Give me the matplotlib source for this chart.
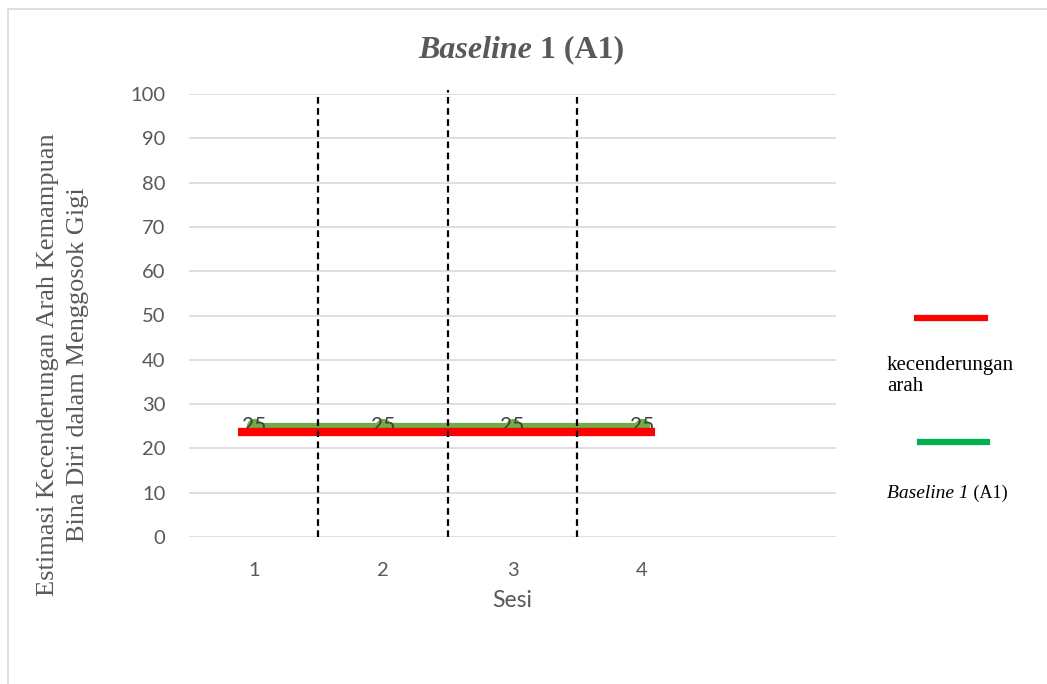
import numpy as np
import matplotlib.pyplot as plt
from matplotlib.lines import Line2D
from matplotlib.patches import Rectangle

# data
sesi = [1, 2, 3, 4]
baseline = [25, 25, 25, 25]
tren_x = [0.88, 4.10]
tren_y = [23.7, 23.7]
pemisah_x = [1.5, 2.5, 3.5]
pemisah_top = [99.3, 100.9, 100.2]
yticks = [0, 10, 20, 30, 40, 50, 60, 70, 80, 90, 100]

GREY = '#595959'
GRID = '#d9d9d9'

fig = plt.figure(figsize=(10.47, 6.84), dpi=100)
W, H = 1047, 684

# outer frame (only top and left edges inside the canvas)
fig.patches.append(Rectangle((8 / W, -0.1), 1.2, (H - 9) / H + 0.1, transform=fig.transFigure,
                             fill=False, edgecolor=GRID, linewidth=1.2))

ax = fig.add_axes([189 / W, (H - 537) / H, (836 - 189) / W, (537 - 94) / H])
ax.set_xlim(0.5, 5.5)
ax.set_ylim(0, 100)
for s in ax.spines.values():
    s.set_visible(False)
ax.set_yticks(yticks)
ax.set_xticks(sesi)
ax.tick_params(length=0, colors=GREY, labelsize=14.5, pad=18)
ax.tick_params(axis='y', pad=17)
for lab in ax.get_xticklabels() + ax.get_yticklabels():
    lab.set_family('Lato')
ax.grid(axis='y', color=GRID, linewidth=1.2)
ax.set_axisbelow(True)

# data series with labels
ax.plot(sesi, baseline, color='#70ad47', linewidth=4.5, marker='o', markersize=10,
        solid_capstyle='butt', zorder=3)
for x, v in zip(sesi, baseline):
    ax.text(x, v, str(v), ha='center', va='center', fontsize=15, color='#404040',
            family='Lato', zorder=4)

# trend line
ax.plot(tren_x, tren_y, color='#ff0000', linewidth=6, solid_capstyle='butt', zorder=5)

# phase separators
for x, t in zip(pemisah_x, pemisah_top):
    ax.plot([x, x], [0, t], color='black', linestyle=(0, (3, 2)), linewidth=1.6,
            clip_on=False, zorder=6)

ax.set_xlabel('Sesi', fontsize=16.5, color=GREY, family='Lato', labelpad=8)

# y label
fig.text(63 / W, 1 - 365 / H,
         'Estimasi Kecenderungan Arah Kemampuan\nBina Diri dalam Menggosok Gigi',
         rotation=90, ha='center', va='center', ma='center', fontsize=19,
         color=GREY, family='Liberation Serif', linespacing=1.45)

# title: italic "Baseline" followed by upright part
fig.canvas.draw()
r = fig.canvas.get_renderer()
title_y = 1 - 50 / H
a = fig.text(0, title_y, 'Baseline', fontsize=23, fontweight='bold', fontstyle='italic',
             family='Liberation Serif', color=GREY, va='center')
b = fig.text(0, title_y, ' 1 (A1)', fontsize=23, fontweight='bold',
             family='Liberation Serif', color=GREY, va='center')
wa = a.get_window_extent(r).width
wb = b.get_window_extent(r).width
x0 = 521 - (wa + wb) / 2
a.set_x(x0 / W)
b.set_x((x0 + wa) / W)

# legend
fig.add_artist(Line2D([914 / W, 988 / W], [1 - 318 / H] * 2, color='#ff0000', linewidth=4.5,
                      solid_capstyle='butt'))
fig.text(887 / W, 1 - 376 / H, 'kecenderungan\narah', fontsize=15, family='Liberation Serif',
         color='black', va='center', linespacing=1.2)
fig.add_artist(Line2D([917 / W, 990 / W], [1 - 442 / H] * 2, color='#00b050', linewidth=4.5,
                      solid_capstyle='butt'))
c = fig.text(887 / W, 1 - 493 / H, 'Baseline 1', fontsize=14, fontstyle='italic',
             family='Liberation Serif', color='black', va='center')
wc = c.get_window_extent(r).width
fig.text((887 + wc) / W, 1 - 493 / H, ' (A1)', fontsize=13, family='Liberation Serif',
         color='black', va='center')

fig.savefig('out.png', dpi=100)
